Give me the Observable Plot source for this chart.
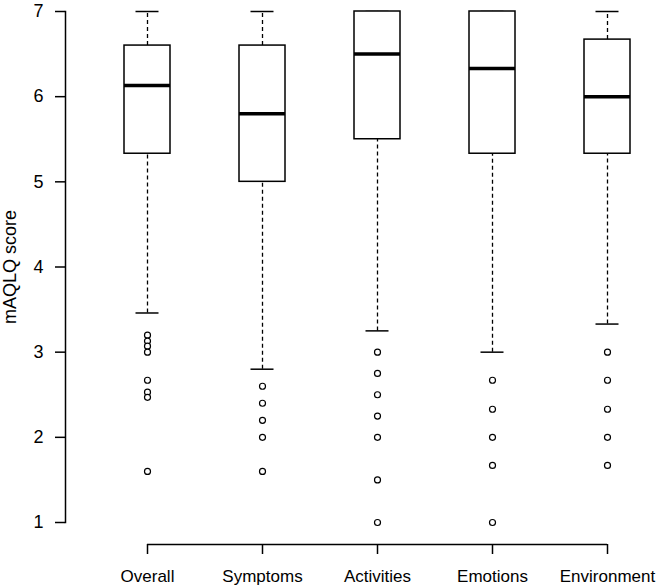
<!DOCTYPE html>
<html><head><meta charset="utf-8">
<script src="https://cdn.jsdelivr.net/npm/d3@7"></script>
<script src="https://cdn.jsdelivr.net/npm/@observablehq/plot@0.6"></script>
<style>body{margin:0;background:#fff}</style>
</head><body><div id="chart"></div>
<script>
const categories = ["Overall", "Symptoms", "Activities", "Emotions", "Environment"];
const lowerWhisker = [3.46, 2.8, 3.25, 3.0, 3.33];
const q1 = [5.33, 5.0, 5.5, 5.33, 5.33];
const median = [6.13, 5.8, 6.5, 6.33, 6.0];
const q3 = [6.6, 6.6, 7.0, 7.0, 6.67];
const upperWhisker = [7, 7, 7, 7, 7];
const outliersOverall = [3.2, 3.13, 3.07, 3.0, 2.67, 2.53, 2.47, 1.6];
const outliersSymptoms = [2.6, 2.4, 2.2, 2.0, 1.6];
const outliersActivities = [3.0, 2.75, 2.5, 2.25, 2.0, 1.5, 1.0];
const outliersEmotions = [2.67, 2.33, 2.0, 1.67, 1.0];
const outliersEnvironment = [3.0, 2.67, 2.33, 2.0, 1.67];
const yTicks = [1, 2, 3, 4, 5, 6, 7];
const yLabel = "mAQLQ score";

const stats = categories.map((c, i) => ({cat: c, lo: lowerWhisker[i], q1: q1[i], med: median[i], q3: q3[i], hi: upperWhisker[i]}));
const outlierLists = [outliersOverall, outliersSymptoms, outliersActivities, outliersEmotions, outliersEnvironment];
const outlierRows = categories.flatMap((c, i) => outlierLists[i].map(v => ({cat: c, value: v})));

const chart = Plot.plot({
  width: 656, height: 587,
  marginTop: 11, marginBottom: 65, marginLeft: 65, marginRight: 2,
  style: {fontFamily: "'Liberation Sans', Arial, sans-serif", fontSize: "17px", color: "#000", background: "#fff"},
  x: {type: "band", domain: categories, range: [100, 654], paddingInner: 0.6, paddingOuter: 0.2, align: 0.5},
  y: {domain: [1, 7]},
  marks: [
    Plot.frame({anchor: "left", stroke: "#000", strokeWidth: 1.5}),
    Plot.axisY({ticks: yTicks, tickFormat: "d", tickSize: 10, tickPadding: 12, fontSize: 18, strokeWidth: 1.5, label: null}),
    Plot.axisY({ticks: [], fontSize: 18, label: yLabel, labelAnchor: "center", labelOffset: 62, labelArrow: "none"}),
    Plot.axisX({tickSize: 10, tickPadding: 15, dy: 22, fontSize: 17, strokeWidth: 1.5, label: null}),
    Plot.ruleY([yTicks[0]], {x1: () => categories[0], x2: () => categories[categories.length - 1], dy: 22, insetLeft: 23, insetRight: 23, stroke: "#000", strokeWidth: 1.5}),
    Plot.ruleX(stats, {x: "cat", y1: "q3", y2: "hi", stroke: "#000", strokeWidth: 1.3, strokeDasharray: "4,3"}),
    Plot.ruleX(stats, {x: "cat", y1: "lo", y2: "q1", stroke: "#000", strokeWidth: 1.3, strokeDasharray: "4,3"}),
    Plot.tickY(stats, {x: "cat", y: "hi", insetLeft: 11.5, insetRight: 11.5, stroke: "#000", strokeWidth: 1.5}),
    Plot.tickY(stats, {x: "cat", y: "lo", insetLeft: 11.5, insetRight: 11.5, stroke: "#000", strokeWidth: 1.5}),
    Plot.barY(stats, {x: "cat", y1: "q1", y2: "q3", fill: "#fff", stroke: "#000", strokeWidth: 1.5}),
    Plot.tickY(stats, {x: "cat", y: "med", stroke: "#000", strokeWidth: 3.5}),
    Plot.dot(outlierRows, {x: "cat", y: "value", r: 3, stroke: "#000", fill: "#fff", strokeWidth: 1.2})
  ]
});
document.getElementById("chart").appendChild(chart);
</script>
</body></html>
